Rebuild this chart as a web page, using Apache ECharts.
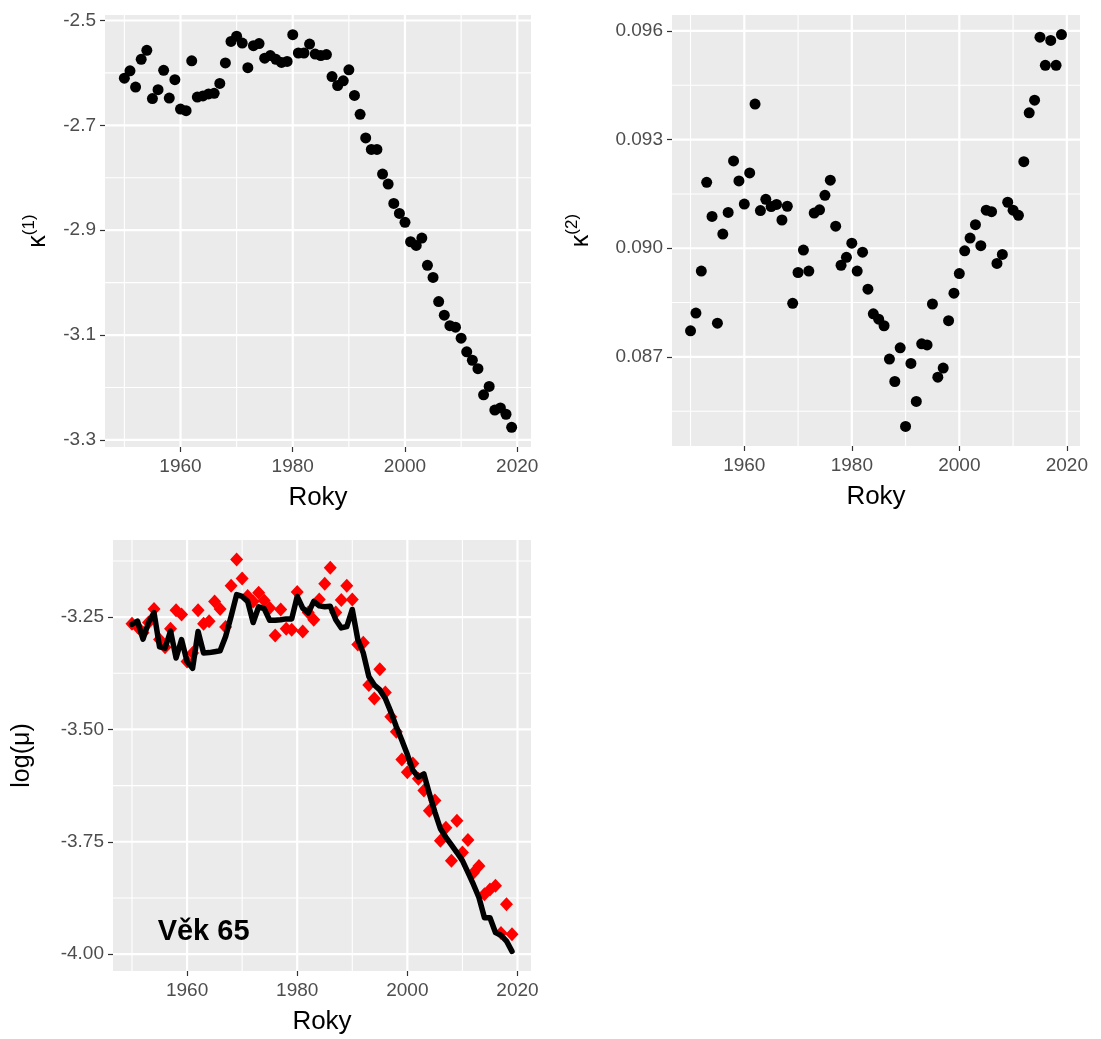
<!DOCTYPE html>
<html>
<head>
<meta charset="utf-8">
<script src="https://cdn.jsdelivr.net/npm/echarts@6/dist/echarts.min.js"></script>
<style>
  html, body { margin: 0; padding: 0; background: #ffffff; }
  #chart { width: 1101px; height: 1039px; }
</style>
</head>
<body>
<div id="chart"></div>
<script>
// Calendar years 1950–2019
const years = [
  1950, 1951, 1952, 1953, 1954, 1955, 1956, 1957, 1958, 1959,
  1960, 1961, 1962, 1963, 1964, 1965, 1966, 1967, 1968, 1969,
  1970, 1971, 1972, 1973, 1974, 1975, 1976, 1977, 1978, 1979,
  1980, 1981, 1982, 1983, 1984, 1985, 1986, 1987, 1988, 1989,
  1990, 1991, 1992, 1993, 1994, 1995, 1996, 1997, 1998, 1999,
  2000, 2001, 2002, 2003, 2004, 2005, 2006, 2007, 2008, 2009,
  2010, 2011, 2012, 2013, 2014, 2015, 2016, 2017, 2018, 2019
];

// Period index kappa(1)
const kappa1 = [
  -2.610, -2.596, -2.627, -2.574, -2.557, -2.649, -2.632, -2.595, -2.648, -2.613,
  -2.669, -2.672, -2.577, -2.646, -2.644, -2.640, -2.639, -2.620, -2.581, -2.540,
  -2.530, -2.543, -2.590, -2.548, -2.544, -2.572, -2.567, -2.574, -2.580, -2.578,
  -2.527, -2.562, -2.562, -2.545, -2.564, -2.567, -2.565, -2.607, -2.624, -2.615,
  -2.594, -2.643, -2.679, -2.724, -2.746, -2.746, -2.793, -2.812, -2.849, -2.868,
  -2.885, -2.922, -2.929, -2.915, -2.967, -2.990, -3.036, -3.062, -3.082, -3.085,
  -3.106, -3.132, -3.148, -3.164, -3.214, -3.198, -3.243, -3.239, -3.251, -3.276
];

// Period index kappa(2)
const kappa2 = [
  0.08772, 0.08821, 0.08937, 0.09182, 0.09088, 0.08793, 0.09039, 0.09099, 0.09241, 0.09186,
  0.09122, 0.09208, 0.09398, 0.09104, 0.09135, 0.09115, 0.09121, 0.09078, 0.09116, 0.08848,
  0.08933, 0.08995, 0.08937, 0.09097, 0.09106, 0.09146, 0.09188, 0.09061, 0.08953, 0.08975,
  0.09014, 0.08937, 0.08989, 0.08887, 0.08819, 0.08804, 0.08786, 0.08694, 0.08632, 0.08725,
  0.08508, 0.08682, 0.08577, 0.08736, 0.08733, 0.08846, 0.08644, 0.08669, 0.08800, 0.08876,
  0.08930, 0.08993, 0.09028, 0.09065, 0.09007, 0.09105, 0.09101, 0.08958, 0.08983, 0.09127,
  0.09105, 0.09091, 0.09239, 0.09374, 0.09409, 0.09583, 0.09505, 0.09574, 0.09505, 0.09590
];

// Observed log mortality at age 65
const observedLogMu = [
  -3.265, -3.272, -3.285, -3.262, -3.232, -3.300, -3.317, -3.276, -3.235, -3.244,
  -3.349, -3.330, -3.235, -3.265, -3.259, -3.215, -3.232, -3.272, -3.180, -3.122,
  -3.164, -3.203, -3.215, -3.196, -3.213, -3.230, -3.291, -3.233, -3.276, -3.278,
  -3.194, -3.282, -3.240, -3.256, -3.211, -3.176, -3.140, -3.240, -3.212, -3.180,
  -3.211, -3.311, -3.307, -3.401, -3.431, -3.366, -3.418, -3.472, -3.505, -3.567,
  -3.595, -3.576, -3.610, -3.636, -3.681, -3.658, -3.748, -3.719, -3.792, -3.703,
  -3.774, -3.746, -3.819, -3.804, -3.867, -3.856, -3.848, -3.953, -3.889, -3.956
];

// Fitted log mortality at age 65
const fittedLogMu = [
  -3.266, -3.259, -3.299, -3.262, -3.240, -3.316, -3.319, -3.281, -3.341, -3.300,
  -3.349, -3.364, -3.282, -3.330, -3.329, -3.327, -3.325, -3.293, -3.248, -3.200,
  -3.204, -3.215, -3.262, -3.227, -3.231, -3.257, -3.257, -3.256, -3.254, -3.254,
  -3.204, -3.230, -3.241, -3.215, -3.225, -3.227, -3.226, -3.256, -3.274, -3.271,
  -3.233, -3.300, -3.330, -3.382, -3.401, -3.412, -3.431, -3.461, -3.494, -3.524,
  -3.556, -3.591, -3.606, -3.599, -3.643, -3.684, -3.721, -3.740, -3.757, -3.774,
  -3.792, -3.818, -3.845, -3.874, -3.919, -3.919, -3.952, -3.958, -3.971, -3.994
];

// Tick positions and minor grid positions
const yearTicks = [1960, 1980, 2000, 2020];
const yearMinor = [1950, 1970, 1990, 2010];
const kappa1Ticks = [-2.5, -2.7, -2.9, -3.1, -3.3];
const kappa1Minor = [-2.6, -2.8, -3.0, -3.2];
const kappa2Ticks = [0.087, 0.090, 0.093, 0.096];
const kappa2Minor = [0.0855, 0.0885, 0.0915, 0.0945];
const logMuTicks = [-3.25, -3.50, -3.75, -4.00];
const logMuMinor = [-3.125, -3.375, -3.625, -3.875];

const annotationText = 'Věk 65';
const annotationPos = [1963, -3.95];

const FONT = '"Liberation Sans", Arial, Helvetica, sans-serif';
const PANEL_BG = '#EBEBEB';
const TICK_COLOR = '#4D4D4D';

// ggplot-style continuous scale expansion (5% on each side)
function expandRange(values) {
  const lo = Math.min(...values), hi = Math.max(...values);
  const pad = (hi - lo) * 0.05;
  return { min: lo - pad, max: hi + pad };
}

const xRange = expandRange(years);
const k1Range = expandRange(kappa1);
const k2Range = expandRange(kappa2);
const muRange = expandRange(observedLogMu.concat(fittedLogMu));

function pairs(xs, ys) { return xs.map((x, i) => [x, ys[i]]); }

// Panel grid lines: each item is [orientation (0 = vertical, 1 = horizontal), value, width]
function gridSeries(idx, yRange, xMajor, xMinor, yMajor, yMinor) {
  const items = []
    .concat(xMinor.map(v => [0, v, 1.1]))
    .concat(yMinor.map(v => [1, v, 1.1]))
    .concat(xMajor.map(v => [0, v, 2.2]))
    .concat(yMajor.map(v => [1, v, 2.2]));
  const midX = (xRange.min + xRange.max) / 2;
  const midY = (yRange.min + yRange.max) / 2;
  return {
    type: 'custom', xAxisIndex: idx, yAxisIndex: idx, z: 1, silent: true,
    data: items,
    renderItem: function (params, api) {
      const cs = params.coordSys;
      const kind = api.value(0), v = api.value(1), w = api.value(2);
      let shape;
      if (kind === 0) {
        const px = api.coord([v, midY])[0];
        shape = { x1: px, y1: cs.y, x2: px, y2: cs.y + cs.height };
      } else {
        const py = api.coord([midX, v])[1];
        shape = { x1: cs.x, y1: py, x2: cs.x + cs.width, y2: py };
      }
      return { type: 'line', shape: shape, style: { stroke: '#FFFFFF', lineWidth: w } };
    }
  };
}

function xAxisFor(idx) {
  return {
    type: 'value', gridIndex: idx, min: xRange.min, max: xRange.max,
    axisLine: { show: false },
    axisTick: { show: true, customValues: yearTicks, length: 5, lineStyle: { color: '#333333', width: 1.2 } },
    axisLabel: { customValues: yearTicks, color: TICK_COLOR, fontSize: 19, fontFamily: FONT, margin: 10,
      formatter: v => String(Math.round(v)) },
    splitLine: { show: false },
    name: 'Roky', nameLocation: 'middle', nameGap: 38,
    nameTextStyle: { color: '#000000', fontSize: 26, fontFamily: FONT }
  };
}

function yAxisFor(idx, range, ticks, digits, name, rich, gap) {
  return {
    type: 'value', gridIndex: idx, min: range.min, max: range.max,
    axisLine: { show: false },
    axisTick: { show: true, customValues: ticks, length: 5, lineStyle: { color: '#333333', width: 1.2 } },
    axisLabel: { customValues: ticks, color: TICK_COLOR, fontSize: 19, fontFamily: FONT, margin: 9,
      formatter: v => v.toFixed(digits) },
    splitLine: { show: false },
    name: name, nameLocation: 'middle', nameGap: gap,
    nameTextStyle: { color: '#000000', fontSize: 25, fontFamily: FONT, rich: rich }
  };
}

const kappaRich = {
  k: { fontSize: 25, fontFamily: FONT, color: '#000', lineHeight: 30, verticalAlign: 'bottom' },
  s: { fontSize: 17, fontFamily: FONT, color: '#000', lineHeight: 30, verticalAlign: 'top' }
};

const chart = echarts.init(document.getElementById('chart'), null, { renderer: 'canvas' });

chart.setOption({
  animation: false,
  backgroundColor: '#FFFFFF',
  grid: [
    { left: 105, top: 15, width: 426, height: 432, show: true, backgroundColor: PANEL_BG, borderWidth: 0 },
    { left: 672, top: 15, width: 408, height: 431, show: true, backgroundColor: PANEL_BG, borderWidth: 0 },
    { left: 113, top: 540, width: 418, height: 431, show: true, backgroundColor: PANEL_BG, borderWidth: 0 }
  ],
  xAxis: [xAxisFor(0), xAxisFor(1), xAxisFor(2)],
  yAxis: [
    yAxisFor(0, k1Range, kappa1Ticks, 1, '{k|κ}{s|(1)}', kappaRich, 54),
    yAxisFor(1, k2Range, kappa2Ticks, 3, '{k|κ}{s|(2)}', kappaRich, 78),
    yAxisFor(2, muRange, logMuTicks, 2, 'log(μ)', null, 78)
  ],
  series: [
    gridSeries(0, k1Range, yearTicks, yearMinor, kappa1Ticks, kappa1Minor),
    gridSeries(1, k2Range, yearTicks, yearMinor, kappa2Ticks, kappa2Minor),
    gridSeries(2, muRange, yearTicks, yearMinor, logMuTicks, logMuMinor),
    {
      type: 'scatter', xAxisIndex: 0, yAxisIndex: 0, z: 3,
      symbol: 'circle', symbolSize: 11, itemStyle: { color: '#000000', opacity: 1 },
      data: pairs(years, kappa1)
    },
    {
      type: 'scatter', xAxisIndex: 1, yAxisIndex: 1, z: 3,
      symbol: 'circle', symbolSize: 11, itemStyle: { color: '#000000', opacity: 1 },
      data: pairs(years, kappa2)
    },
    {
      type: 'scatter', xAxisIndex: 2, yAxisIndex: 2, z: 3,
      symbol: 'diamond', symbolSize: [13, 14], itemStyle: { color: '#FF0000', opacity: 1 },
      data: pairs(years, observedLogMu)
    },
    {
      type: 'line', xAxisIndex: 2, yAxisIndex: 2, z: 4,
      showSymbol: false, symbol: 'none',
      lineStyle: { color: '#000000', width: 5.5, cap: 'round', join: 'round' },
      data: pairs(years, fittedLogMu)
    },
    {
      type: 'scatter', xAxisIndex: 2, yAxisIndex: 2, z: 5,
      symbolSize: 0, silent: true, itemStyle: { opacity: 1 },
      label: { show: true, position: 'inside', formatter: annotationText,
        color: '#000000', fontSize: 29, fontWeight: 'bold', fontFamily: FONT },
      data: [annotationPos]
    }
  ]
});
</script>
</body>
</html>
